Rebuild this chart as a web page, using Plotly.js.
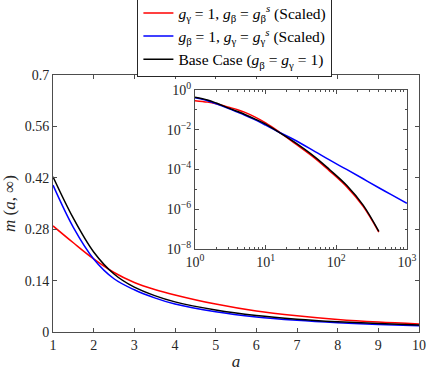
<!DOCTYPE html>
<html>
<head>
<meta charset="utf-8">
<script src="https://cdn.plot.ly/plotly-3.0.1.min.js"></script>
<style>html,body{margin:0;padding:0;background:#fff;}#chart{width:427px;height:371px;}</style>
</head>
<body>
<div id="chart"></div>
<script>
// Main panel data (a from 1 to 10)
const aMain = [1, 1.5, 2, 2.5, 3, 3.5, 4, 5, 6, 7, 8, 9, 10];
const mRedMain = [0.289, 0.243, 0.199, 0.162, 0.135, 0.116, 0.101, 0.076, 0.057, 0.044, 0.034, 0.027, 0.022];
const mBlueMain = [0.400, 0.285, 0.199, 0.145, 0.115, 0.093, 0.076, 0.055, 0.041, 0.032, 0.0255, 0.0205, 0.0168];
const mBlackMain = [0.423, 0.310, 0.218, 0.158, 0.122, 0.099, 0.082, 0.060, 0.045, 0.035, 0.028, 0.023, 0.019];

// Inset data (log-log)
const aInset = [1, 1.5, 2, 3, 4, 5, 7, 10, 15, 25, 50, 80, 140, 240, 400];
const aInsetBlue = [1, 1.5, 2, 3, 4, 5, 7, 10, 15, 25, 50, 80, 140, 240, 400, 600, 1000];
const mRedInset = [0.289, 0.243, 0.199, 0.135, 0.101, 0.076, 0.044, 0.022, 0.0085, 0.00224, 3.6e-4, 8.5e-5, 1.35e-5, 1.38e-6, 7.1e-8];
const mBlackInset = [0.423, 0.310, 0.218, 0.122, 0.082, 0.060, 0.035, 0.019, 0.0079, 0.0025, 4.2e-4, 1.0e-4, 1.6e-5, 1.6e-6, 7.6e-8];
const mBlueInset = [0.400, 0.285, 0.199, 0.115, 0.076, 0.055, 0.032, 0.0168, 0.0079, 0.0032, 7.9e-4, 3.0e-4, 1.0e-4, 3.4e-5, 1.2e-5, 5.4e-6, 2.0e-6];

const S = '\u00A0';
const names = [
  "<i>g</i><sub>γ</sub>" + S + "=" + S + "1," + S + "<i>g</i><sub>β</sub>" + S + "=" + S + "<i>g</i><sub>β</sub><sup><i>s</i></sup> (Scaled)",
  "<i>g</i><sub>β</sub>" + S + "=" + S + "1," + S + "<i>g</i><sub>γ</sub>" + S + "=" + S + "<i>g</i><sub>γ</sub><sup><i>s</i></sup> (Scaled)",
  "Base Case (<i>g</i><sub>β</sub>" + S + "=" + S + "<i>g</i><sub>γ</sub>" + S + "=" + S + "1)"
];
const colors = ["#ff0000", "#0000ff", "#000000"];

const xTicksMain = [1,2,3,4,5,6,7,8,9,10];
const yTicksMain = [0, 0.14, 0.28, 0.42, 0.56, 0.7];
const yTickTextMain = ["0", "0.14", "0.28", "0.42", "0.56", "0.7"];
const xTicksInset = [1, 10, 100, 1000];
const xTickTextInset = ["10<sup>0</sup>", "10<sup>1</sup>", "10<sup>2</sup>", "10<sup>3</sup>"];
const yTicksInset = [1e-8, 1e-6, 1e-4, 1e-2, 1];
const yTickTextInset = ["10<sup>−8</sup>", "10<sup>−6</sup>", "10<sup>−4</sup>", "10<sup>−2</sup>", "10<sup>0</sup>"];

const mainY = [mRedMain, mBlueMain, mBlackMain];
const insetX = [aInset, aInsetBlue, aInset];
const insetY = [mRedInset, mBlueInset, mBlackInset];

const traces = [];
for (let i = 0; i < 3; i++) {
  traces.push({x: aMain, y: mainY[i], type: 'scatter', mode: 'lines', name: names[i],
    line: {color: colors[i], width: 1.5, shape: 'spline', smoothing: 1}, xaxis: 'x', yaxis: 'y'});
}
for (let i = 0; i < 3; i++) {
  traces.push({x: insetX[i], y: insetY[i], type: 'scatter', mode: 'lines', showlegend: false,
    line: {color: colors[i], width: 1.5, shape: 'spline', smoothing: 1}, xaxis: 'x2', yaxis: 'y2'});
}

const axCol = '#4d4d4d';
const fam = 'Liberation Serif';
const font = {family: fam, size: 14, color: '#262626'};
const layout = {
  width: 427, height: 371,
  margin: {l: 53, r: 8, t: 75, b: 39, autoexpand: false},
  paper_bgcolor: '#fff', plot_bgcolor: '#fff',
  font: font,
  showlegend: true,
  legend: {x: 0.497, y: 1.31, xanchor: 'center', yanchor: 'top', bgcolor: '#fff',
    bordercolor: '#262626', borderwidth: 1, font: {family: fam, size: 15.5, color: '#000'},
    tracegroupgap: 0, itemwidth: 30},
  xaxis: {domain: [0, 1], range: [1, 10], tickvals: xTicksMain, ticks: 'inside', ticklen: 4,
    tickcolor: axCol, showline: true, linecolor: axCol, linewidth: 1, mirror: 'ticks',
    showgrid: false, zeroline: false, tickfont: {family: fam, size: 14, color: '#262626'},
    title: {text: '<i>a</i>', font: {family: fam, size: 17}, standoff: 6}},
  yaxis: {domain: [0, 1], range: [0, 0.7], tickvals: yTicksMain, ticktext: yTickTextMain,
    ticks: 'inside', ticklen: 4, tickcolor: axCol, showline: true, linecolor: axCol, linewidth: 1,
    mirror: 'ticks', showgrid: false, zeroline: false, tickfont: {family: fam, size: 14, color: '#262626'},
    title: {text: '<i>m</i> (<i>a</i>, ∞)', font: {family: fam, size: 17}, standoff: 4}},
  xaxis2: {domain: [0.388, 0.967], anchor: 'y2', type: 'log', range: [0, 3], tickvals: xTicksInset,
    ticktext: xTickTextInset, ticks: 'inside', ticklen: 4, tickcolor: axCol, showline: true,
    linecolor: axCol, linewidth: 1, mirror: 'ticks', showgrid: false, zeroline: false,
    tickfont: {family: fam, size: 14, color: '#262626'},
    minor: {dtick: 'D1', ticks: 'inside', ticklen: 2, tickcolor: axCol, showgrid: false}},
  yaxis2: {domain: [0.323, 0.942], anchor: 'x2', type: 'log', range: [-8, 0], tickvals: yTicksInset,
    ticktext: yTickTextInset, ticks: 'inside', ticklen: 4, tickcolor: axCol, showline: true,
    linecolor: axCol, linewidth: 1, mirror: 'ticks', showgrid: false, zeroline: false,
    tickfont: {family: fam, size: 14, color: '#262626'},
    minor: {dtick: 1, ticks: 'inside', ticklen: 2, tickcolor: axCol, showgrid: false}},
  shapes: [{type: 'rect', xref: 'paper', yref: 'paper', x0: 0.388, x1: 0.967, y0: 0.323, y1: 0.942,
    fillcolor: '#fff', line: {width: 0}, layer: 'below'}]
};

Plotly.newPlot('chart', traces, layout, {displayModeBar: false, staticPlot: true});
</script>
</body>
</html>
